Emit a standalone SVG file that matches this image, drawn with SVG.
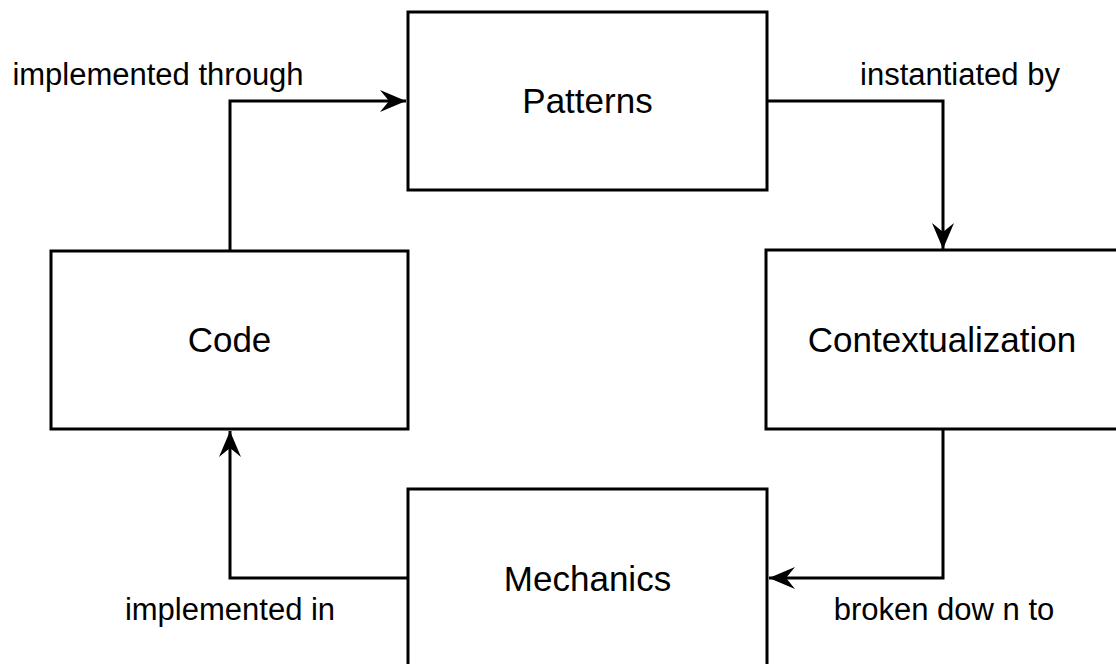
<svg xmlns="http://www.w3.org/2000/svg" width="1116" height="664" viewBox="0 0 1116 664">
  <defs>
    <style>
      .node rect { fill: #ffffff; stroke: #000000; stroke-width: 3; }
      .node text { font-family: "Liberation Sans", Arial, sans-serif; font-size: 35px; fill: #000000; text-anchor: middle; }
      .edge { fill: none; stroke: #000000; stroke-width: 3; marker-end: url(#arrow); }
      .label { font-family: "Liberation Sans", Arial, sans-serif; font-size: 31px; fill: #000000; text-anchor: middle; }
    </style>
    <!-- classic drawio-style arrowhead with notched back -->
    <marker id="arrow" markerUnits="userSpaceOnUse" markerWidth="30" markerHeight="26" viewBox="-28 -13 30 26" refX="0" refY="0" orient="auto">
      <path d="M0,0 L-26,-11 L-17,0 L-26,11 Z" fill="#000000" stroke="none"/>
    </marker>
  </defs>

  <rect width="1116" height="664" fill="#ffffff"/>

  <!-- connectors -->
  <g id="connectors">
    <path class="edge" d="M230,251 L230,101 L406,101"/>
    <path class="edge" d="M767,101 L943,101 L943,249"/>
    <path class="edge" d="M943,429 L943,578 L769,578"/>
    <path class="edge" d="M408,578 L230,578 L230,431"/>
    <text class="label" x="158" y="85">implemented through</text>
    <text class="label" x="960" y="85">instantiated by</text>
    <text class="label" x="230" y="620">implemented in</text>
    <text class="label" x="944" y="620">broken dow n to</text>
  </g>

  <!-- nodes -->
  <g id="patterns" class="node">
    <rect x="408" y="12" width="359" height="178"/>
    <text x="587.5" y="113">Patterns</text>
  </g>
  <g id="code" class="node">
    <rect x="51" y="251" width="357" height="178"/>
    <text x="229.5" y="352">Code</text>
  </g>
  <g id="contextualization" class="node">
    <rect x="766" y="250" width="400" height="179"/>
    <text x="942" y="352">Contextualization</text>
  </g>
  <g id="mechanics" class="node">
    <rect x="408" y="489" width="359" height="200"/>
    <text x="587.5" y="591">Mechanics</text>
  </g>
</svg>
